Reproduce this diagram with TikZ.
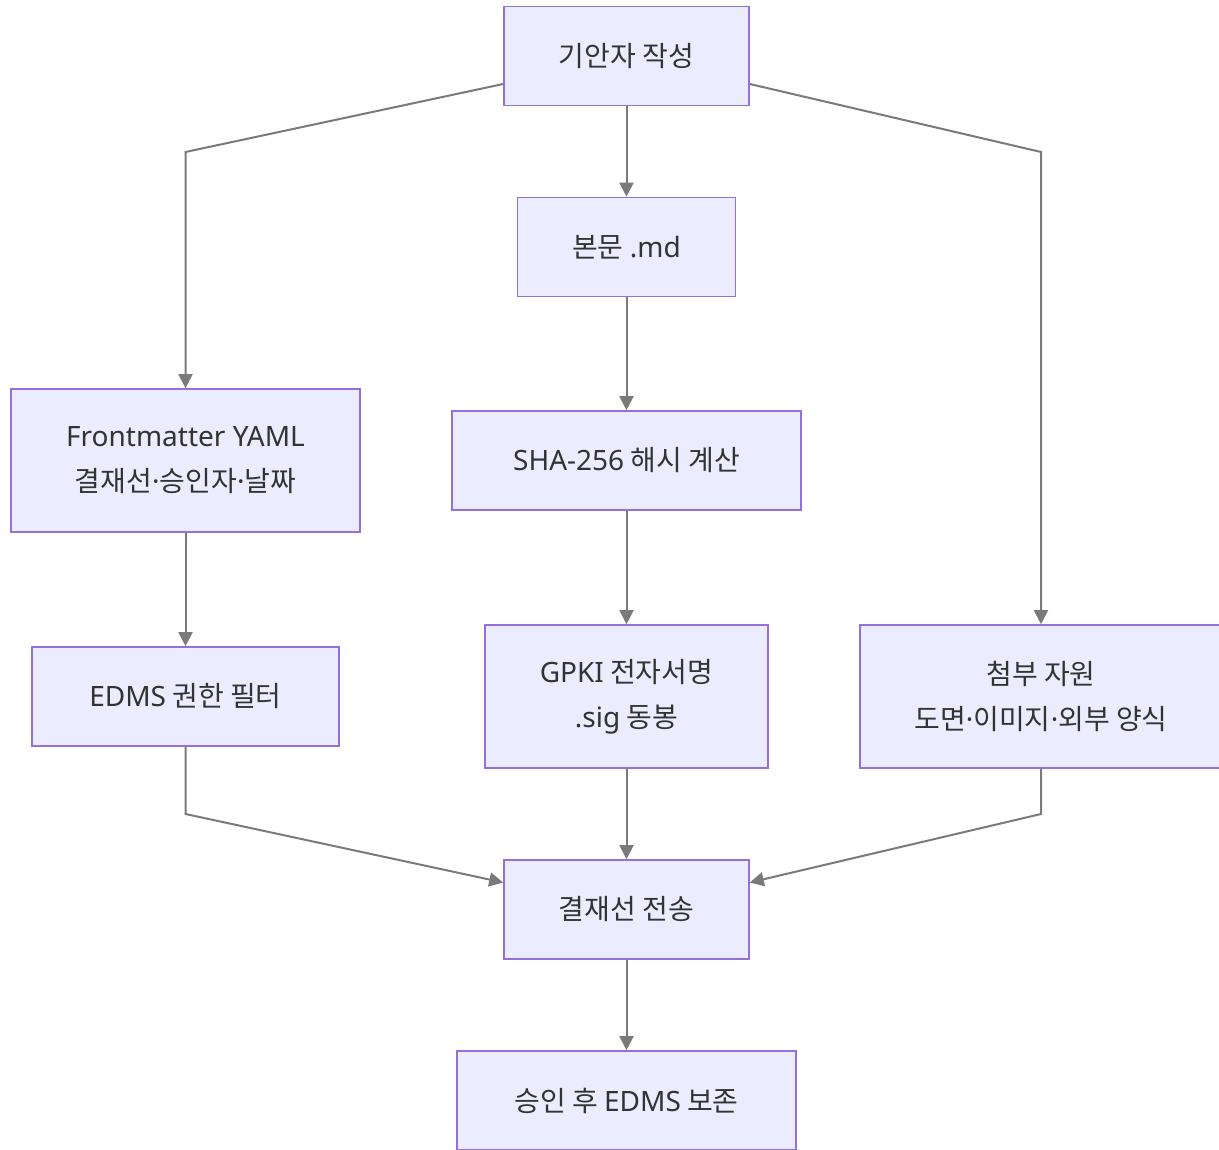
\documentclass[tikz,border=0pt]{standalone}
\usepackage{fontspec}
\setmainfont{Noto Sans CJK KR}
\newfontfamily\lat{Noto Sans}
\newcommand{\md}{{\lat ·}}
\usetikzlibrary{arrows.meta}
\definecolor{boxfill}{HTML}{ECECFF}
\definecolor{boxline}{HTML}{9370DB}
\definecolor{edge}{HTML}{7A7A7A}
\definecolor{ink}{HTML}{333333}
\tikzset{
  stepbox/.style={draw=boxline, fill=boxfill, line width=1.6pt, text=ink,
    font=\fontsize{28}{45}\selectfont, align=center, inner sep=0pt},
  flow/.style={draw=edge, line width=2pt,
    -{Triangle[length=14pt,width=14pt]}},
}
\begin{document}
\begin{tikzpicture}[x=1pt,y=-1pt]
\useasboundingbox (0,0) rectangle (1219,1150);
% boxes: centre, width, height in pixel units
\node[stepbox, minimum width=245pt, minimum height=99pt] (a) at (626.5,56) {기안자 작성};
\node[stepbox, minimum width=218pt, minimum height=99pt] (b) at (626.5,247) {본문 {\lat .md}};
\node[stepbox, minimum width=349pt, minimum height=143pt] (c) at (185.5,460.5) {{\lat Frontmatter YAML}\\결재선\md 승인자\md 날짜};
\node[stepbox, minimum width=349pt, minimum height=99pt] (d) at (626.5,460.5) {{\lat SHA-256} 해시 계산};
\node[stepbox, minimum width=307pt, minimum height=99pt] (e) at (185.5,696.5) {{\lat EDMS} 권한 필터};
\node[stepbox, minimum width=283pt, minimum height=143pt] (f) at (626.5,696.5) {{\lat GPKI} 전자서명\\{\lat .sig} 동봉};
\node[stepbox, minimum width=362pt, minimum height=143pt] (g) at (1041,696.5) {첨부 자원\\도면\md 이미지\md 외부 양식};
\node[stepbox, minimum width=245pt, minimum height=99pt] (h) at (626.5,909.5) {결재선 전송};
\node[stepbox, minimum width=339pt, minimum height=99pt] (i) at (626.5,1100.5) {승인 후 {\lat EDMS} 보존};
% bend points of the side routes
\coordinate (cl) at (185.5,152);
\coordinate (cr) at (1041,152);
\coordinate (el) at (185.5,814);
\coordinate (gr) at (1041,814);
% connectors
\draw[flow] (a.south) -- (b.north);
\draw[flow] (b.south) -- (d.north);
\draw[flow] (d.south) -- (f.north);
\draw[flow] (f.south) -- (h.north);
\draw[flow] (h.south) -- (i.north);
\draw[flow] (c.south) -- (e.north);
\draw[flow] ([yshift=-28pt]a.west) -- (cl) -- (c.north);
\draw[flow] ([yshift=-28pt]a.east) -- (cr) -- (g.north);
\draw[flow] (e.south) -- (el) -- ([yshift=27pt]h.west);
\draw[flow] (g.south) -- (gr) -- ([yshift=27pt]h.east);
\end{tikzpicture}
\end{document}
